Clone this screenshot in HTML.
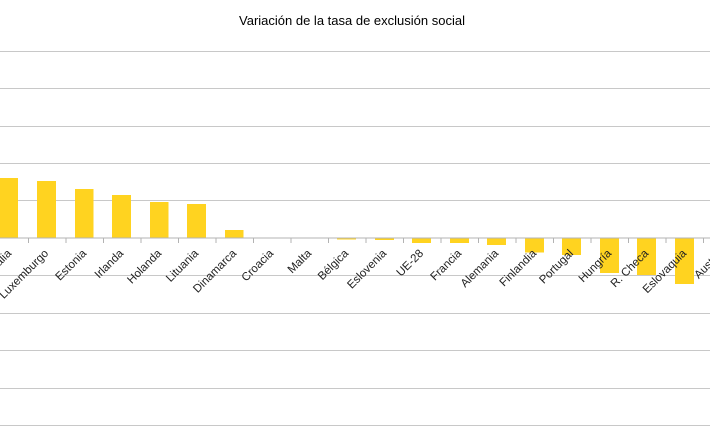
<!DOCTYPE html><html><head><style>body{margin:0;background:#fff}</style></head><body>
<svg width="710" height="434" xmlns="http://www.w3.org/2000/svg" font-family="Liberation Sans, sans-serif">
<rect width="710" height="434" fill="#fff"/>
<text x="352" y="25" font-size="13" text-anchor="middle" fill="#000">Variación de la tasa de exclusión social</text>
<g stroke="#c8c8c8" stroke-width="1">
<line x1="0" x2="710" y1="51.5" y2="51.5"/><line x1="0" x2="710" y1="88.5" y2="88.5"/><line x1="0" x2="710" y1="126.5" y2="126.5"/><line x1="0" x2="710" y1="163.5" y2="163.5"/><line x1="0" x2="710" y1="200.5" y2="200.5"/><line x1="0" x2="710" y1="275.5" y2="275.5"/><line x1="0" x2="710" y1="313.5" y2="313.5"/><line x1="0" x2="710" y1="350.5" y2="350.5"/><line x1="0" x2="710" y1="388.5" y2="388.5"/><line x1="0" x2="710" y1="425.5" y2="425.5"/>
</g>
<g fill="#ffd320">
<rect x="-1" y="178" width="19" height="60"/>
<rect x="37" y="181" width="19" height="57"/>
<rect x="75" y="189" width="18.5" height="49"/>
<rect x="112" y="195" width="19" height="43"/>
<rect x="150" y="202" width="18.5" height="36"/>
<rect x="187" y="204" width="19" height="34"/>
<rect x="225" y="230" width="18.5" height="8"/>
<rect x="337" y="238" width="19" height="1.5"/>
<rect x="375" y="238" width="19" height="2"/>
<rect x="412" y="238" width="19" height="5"/>
<rect x="450" y="238" width="19" height="5"/>
<rect x="487" y="238" width="19" height="7"/>
<rect x="525" y="238" width="19" height="14.5"/>
<rect x="562" y="238" width="19" height="17"/>
<rect x="600" y="238" width="19" height="35"/>
<rect x="637" y="238" width="19" height="37"/>
<rect x="675" y="238" width="19" height="46"/>
</g>
<line x1="0" x2="710" y1="238" y2="238" stroke="#b3b3b3"/>
<g stroke="#b3b3b3">
<line x1="28.5" x2="28.5" y1="238" y2="243"/><line x1="66" x2="66" y1="238" y2="243"/><line x1="103.5" x2="103.5" y1="238" y2="243"/><line x1="141" x2="141" y1="238" y2="243"/><line x1="178.5" x2="178.5" y1="238" y2="243"/><line x1="216" x2="216" y1="238" y2="243"/><line x1="253.5" x2="253.5" y1="238" y2="243"/><line x1="291" x2="291" y1="238" y2="243"/><line x1="328.5" x2="328.5" y1="238" y2="243"/><line x1="366" x2="366" y1="238" y2="243"/><line x1="403.5" x2="403.5" y1="238" y2="243"/><line x1="441" x2="441" y1="238" y2="243"/><line x1="478.5" x2="478.5" y1="238" y2="243"/><line x1="516" x2="516" y1="238" y2="243"/><line x1="553.5" x2="553.5" y1="238" y2="243"/><line x1="591" x2="591" y1="238" y2="243"/><line x1="628.5" x2="628.5" y1="238" y2="243"/><line x1="666" x2="666" y1="238" y2="243"/><line x1="703.5" x2="703.5" y1="238" y2="243"/>
</g>
<g font-size="11.5" fill="#222" text-anchor="end">
<text transform="translate(12,254) rotate(-45)">Italia</text>
<text transform="translate(49,254) rotate(-45)">Luxemburgo</text>
<text transform="translate(87,254) rotate(-45)">Estonia</text>
<text transform="translate(124,254) rotate(-45)">Irlanda</text>
<text transform="translate(162,254) rotate(-45)">Holanda</text>
<text transform="translate(199,254) rotate(-45)">Lituania</text>
<text transform="translate(237,254) rotate(-45)">Dinamarca</text>
<text transform="translate(274,254) rotate(-45)">Croacia</text>
<text transform="translate(312,254) rotate(-45)">Malta</text>
<text transform="translate(349,254) rotate(-45)">Bélgica</text>
<text transform="translate(387,254) rotate(-45)">Eslovenia</text>
<text transform="translate(424,254) rotate(-45)">UE-28</text>
<text transform="translate(462,254) rotate(-45)">Francia</text>
<text transform="translate(499,254) rotate(-45)">Alemania</text>
<text transform="translate(537,254) rotate(-45)">Finlandia</text>
<text transform="translate(574,254) rotate(-45)">Portugal</text>
<text transform="translate(612,254) rotate(-45)">Hungría</text>
<text transform="translate(649,254) rotate(-45)">R. Checa</text>
<text transform="translate(687,254) rotate(-45)">Eslovaquia</text>
<text transform="translate(724,254) rotate(-45)">Austria</text>
</g>
</svg>
</body></html>
